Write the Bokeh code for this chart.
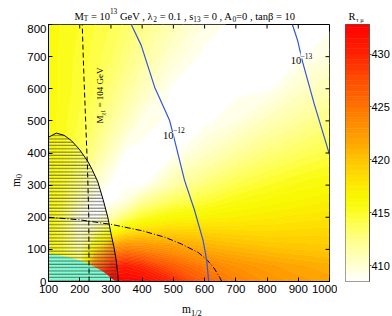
import numpy as np
from bokeh.plotting import figure
from bokeh.layouts import row, column
from bokeh.models import Range1d, FixedTicker, Label
from bokeh.embed import file_html
from bokeh.resources import INLINE

# ---------------- data ----------------
m12_grid = [100, 150, 200, 250, 300, 350, 400, 500, 600, 700, 800, 900, 1000]
m0_grid = [0, 50, 100, 150, 200, 250, 300, 400, 500, 600, 700, 800]
R_rows = [
    [420.0, 422.0, 426.0, 430.0, 432.5, 432.8, 432.5, 430.0, 426.5, 424.2, 423.0, 422.3, 421.8],
    [416.0, 415.0, 414.0, 425.0, 430.0, 430.5, 429.5, 426.5, 424.3, 423.0, 422.2, 421.6, 421.2],
    [416.0, 414.5, 412.0, 418.0, 423.5, 424.5, 424.0, 422.8, 421.5, 420.8, 420.3, 420.0, 419.8],
    [416.0, 414.0, 410.5, 413.0, 416.5, 418.5, 419.3, 419.5, 419.2, 418.9, 418.7, 418.8, 418.9],
    [416.0, 413.8, 409.5, 408.8, 411.2, 413.5, 415.0, 416.3, 416.8, 417.1, 417.4, 417.7, 417.9],
    [415.9, 414.5, 411.4, 408.8, 408.8, 409.7, 411.9, 413.8, 414.6, 415.6, 416.2, 416.6, 417.0],
    [415.9, 414.8, 412.6, 410.1, 408.8, 408.8, 408.8, 411.5, 413.0, 414.2, 415.0, 415.7, 416.1],
    [415.9, 415.1, 414.0, 412.2, 410.5, 408.8, 408.8, 408.8, 410.3, 411.7, 412.8, 413.6, 414.3],
    [415.8, 415.2, 414.4, 413.3, 412.0, 410.7, 409.3, 408.8, 408.8, 409.5, 410.8, 411.8, 412.7],
    [415.8, 415.3, 414.7, 414.0, 412.9, 411.9, 410.8, 408.8, 408.8, 408.8, 408.8, 410.2, 411.1],
    [415.8, 415.3, 414.8, 414.3, 413.6, 412.7, 411.8, 410.0, 408.8, 408.8, 408.8, 408.8, 409.7],
    [415.8, 415.4, 415.0, 414.5, 414.0, 413.3, 412.5, 411.0, 409.4, 408.8, 408.8, 408.8, 408.8],
]

# excluded (cyan) region boundary
excl_m12 = [100, 130, 163, 200, 227, 250, 269, 290, 301, 312, 320, 100]
excl_m0 = [86, 82, 76, 65, 55, 44, 34, 20, 9, 3, 0, 0]

# hatched region boundary (black curve)
hatch_m12 = [100, 125, 150, 173, 200, 227, 240, 258, 275, 290, 300, 310, 317, 322, 324]
hatch_m0 = [449, 462, 455, 439, 410, 372, 348, 310, 255, 200, 150, 105, 65, 20, 0]

# chargino mass line (dashed)
mchi_m12 = [230, 229, 225, 219, 213, 208]
mchi_m0 = [0, 200, 350, 500, 650, 800]

# dash-dot line
dd_m12 = [100, 200, 300, 400, 475, 525, 580, 610, 630, 648, 655]
dd_m0 = [200, 192, 178, 158, 137, 117, 90, 65, 42, 13, 0]

# BR contours (blue)
br12_m12 = [365, 397, 440, 488, 504, 536, 568, 595, 607, 613]
br12_m0 = [800, 735, 605, 501, 439, 314, 221, 128, 65, 0]
br13_m12 = [881, 898, 914, 951, 983, 1000]
br13_m0 = [800, 750, 683, 553, 450, 395]

x_ticks = [100, 200, 300, 400, 500, 600, 700, 800, 900, 1000]
y_ticks = [0, 100, 200, 300, 400, 500, 600, 700, 800]
cb_ticks = [410, 415, 420, 425, 430]
cb_low, cb_high = 408.5, 432.8

# ---------------- colours ----------------
anchors = [(408.5, "#ffffff"), (409.0, "#fffff2"), (410.0, "#ffffd2"), (412.0, "#ffff98"),
           (414.0, "#ffff50"), (415.5, "#fbfb12"), (416.5, "#f8f800"), (418.0, "#ffe400"),
           (420.0, "#ffc400"), (422.0, "#ffa000"), (424.0, "#ff8400"), (426.0, "#ff6400"),
           (428.0, "#ff4600"), (430.0, "#ff2200"), (433.0, "#ff0000")]


def hex2rgb(h):
    return [int(h[i:i + 2], 16) for i in (1, 3, 5)]


def cmap(v):
    if v <= anchors[0][0]:
        return anchors[0][1]
    for (v0, c0), (v1, c1) in zip(anchors[:-1], anchors[1:]):
        if v0 <= v <= v1:
            t = (v - v0) / (v1 - v0)
            a, b = hex2rgb(c0), hex2rgb(c1)
            return "#%02x%02x%02x" % tuple(int(round(a[i] + (b[i] - a[i]) * t)) for i in range(3))
    return anchors[-1][1]


levels = [409.0 + 0.5 * i for i in range(49)]
band_colors = [cmap((levels[i] + levels[i + 1]) / 2) for i in range(len(levels) - 1)]
level_colors = [cmap(v) for v in levels]

SERIF = "Liberation Serif"
SANS = "Liberation Sans"

# page geometry (no page margin in Bokeh's template)
FL, FR, FT, FB = 47.0, 329.0, 24.0, 281.0   # main frame edges on the page


def dx(px):
    return 100 + (px - FL) * 900.0 / (FR - FL)


def dy(py):
    return (FB - py) * 800.0 / (FB - FT)


def lab(fig, x, y, text, size, angle=0.0, font=SERIF, bg=None):
    L = Label(x=x, y=y, text=text, text_font=font, text_font_size=size, text_color="black",
              text_align="left", text_baseline="alphabetic", angle=angle)
    if bg is not None:
        L.background_fill_color = bg
    fig.add_layout(L)


def strip(w, h, x0, y0):
    f = figure(width=w, height=h, x_range=Range1d(x0, x0 + w), y_range=Range1d(y0 + h, y0),
               output_backend="svg", toolbar_location=None, title=None,
               min_border=0, x_axis_location=None, y_axis_location=None)
    f.outline_line_color = None
    f.background_fill_color = "white"
    f.border_fill_color = "white"
    f.xgrid.visible = False
    f.ygrid.visible = False
    return f


# ---------------- main figure ----------------
p = figure(width=313, height=275, x_range=Range1d(100, 1000), y_range=Range1d(0, 800),
           output_backend="svg", toolbar_location=None, title=None,
           min_border_left=23, min_border_right=8, min_border_top=0, min_border_bottom=18)
p.background_fill_color = "white"
p.border_fill_color = "white"
p.outline_line_color = "black"
p.xgrid.visible = False
p.ygrid.visible = False

p.contour(x=m12_grid, y=m0_grid, z=np.array(R_rows), levels=levels,
          fill_color=band_colors, line_color=level_colors, line_width=0.8)

p.patch(excl_m12, excl_m0, fill_color="#7fffd4", line_color=None)
p.patch(hatch_m12 + [100], hatch_m0 + [0], fill_alpha=0, line_color=None,
        hatch_pattern="horizontal_line", hatch_scale=3.3, hatch_color="#333333",
        hatch_weight=0.8, hatch_alpha=0.9)
p.line(hatch_m12, hatch_m0, line_color="black", line_width=1)
p.line(mchi_m12, mchi_m0, line_color="black", line_width=1, line_dash="5 3")
p.line(dd_m12, dd_m0, line_color="black", line_width=1, line_dash="6 2 1 2")
p.line(br12_m12, br12_m0, line_color="#3355dd", line_width=1.2)
p.line(br13_m12, br13_m0, line_color="#3355dd", line_width=1.2)

for ax in p.xaxis:
    ax.ticker = FixedTicker(ticks=x_ticks)
    ax.major_label_standoff = 3
for ax in p.yaxis:
    ax.ticker = FixedTicker(ticks=y_ticks)
    ax.major_label_standoff = 2
for ax in list(p.xaxis) + list(p.yaxis):
    ax.axis_line_color = "black"
    ax.major_tick_in = 4
    ax.major_tick_out = 0
    ax.major_tick_line_color = "black"
    ax.minor_tick_line_color = None
    ax.major_label_text_font = SANS
    ax.major_label_text_font_size = "11.5px"
    ax.major_label_text_color = "black"

# mirrored tick marks on the top and right frame edges (4 px long)
tick_dy = 4 * 800.0 / (FB - FT)
tick_dx = 4 * 900.0 / (FR - FL)
p.segment(x0=x_ticks, y0=[800] * len(x_ticks), x1=x_ticks, y1=[800 - tick_dy] * len(x_ticks),
          line_color="black", line_width=1)
p.segment(x0=[1000] * len(y_ticks), y0=y_ticks, x1=[1000 - tick_dx] * len(y_ticks), y1=y_ticks,
          line_color="black", line_width=1)

# chargino label (rotated)
lab(p, dx(99), dy(123), "M", "9px", angle=np.pi / 2)
lab(p, dx(102), dy(115), "χ1", "6px", angle=np.pi / 2)
lab(p, dx(99), dy(107), "= 104 GeV", "9px", angle=np.pi / 2)

# BR labels
lab(p, dx(162), dy(135), "10", "10.5px", bg="white")
lab(p, dx(172), dy(129), "−12", "7.5px", bg="white")
lab(p, dx(290), dy(60), "10", "10.5px", bg="white")
lab(p, dx(300), dy(55), "−13", "7.5px", bg="white")

# ---------------- colour bar figure ----------------
p2 = figure(width=55, height=275, x_range=Range1d(0, 1), y_range=Range1d(cb_low, cb_high),
            output_backend="svg", toolbar_location=None, title=None,
            min_border_left=8, min_border_right=22, min_border_top=0, min_border_bottom=18,
            x_axis_location=None, y_axis_location="right")
p2.background_fill_color = "white"
p2.border_fill_color = "white"
p2.outline_line_color = "#555555"
p2.xgrid.visible = False
p2.ygrid.visible = False
bottoms = [cb_low] + levels[:-1]
tops = [levels[0]] + levels[1:]
cols = [cmap((cb_low + levels[0]) / 2)] + band_colors
p2.quad(left=0, right=1, bottom=bottoms, top=tops, fill_color=cols, line_color=cols, line_width=0.5)
for ax in p2.yaxis:
    ax.ticker = FixedTicker(ticks=cb_ticks)
    ax.major_tick_in = 0
    ax.major_tick_out = 2
    ax.minor_tick_line_color = None
    ax.axis_line_color = "#555555"
    ax.major_tick_line_color = "#555555"
    ax.major_label_standoff = 0
    ax.major_label_text_font = SANS
    ax.major_label_text_font_size = "11px"
    ax.major_label_text_color = "black"

# ---------------- text strips around the plot ----------------
title_fig = strip(392, 24, 0, 0)
# title pieces laid out left to right from approximate Times advance widths
W = {" ": .25, "=": .564, ".": .25, ",": .25, "G": .722, "e": .444, "V": .722, "M": .889,
     "T": .611, "s": .389, "A": .722, "t": .278, "a": .444, "n": .5, "λ": .55, "β": .5}
for d in "0123456789":
    W[d] = .5


def width(t, fs):
    return sum(W.get(c, .5) for c in t) * fs


FS, SS = 10.5, 7.3
pieces = [("M", "n"), ("T", "sub"), (" = 10", "n"), ("13", "sup"), (" GeV , λ", "n"), ("2", "sub"),
          (" = 0.1 , s", "n"), ("13", "sub"), (" = 0 , A", "n"), ("0", "sub"), ("=0 , tanβ = 10", "n")]
xpos = 74.0
for t, kind in pieces:
    fs = FS if kind == "n" else SS
    base = {"n": 15.5, "sub": 18.0, "sup": 10.5}[kind]
    stripped = t.lstrip(" ")
    xpos += (len(t) - len(stripped)) * W[" "] * fs
    lab(title_fig, xpos, base, stripped, "%.1fpx" % fs)
    xpos += width(stripped, fs)
lab(title_fig, 348, 15.5, "R", "10.5px")
lab(title_fig, 355.5, 19.0, "τ μ", "6.5px")

ylab_fig = strip(24, 275, 0, 24)
lab(ylab_fig, 15.0, 198, "m", "11.5px", angle=np.pi / 2)
lab(ylab_fig, 18.5, 188.5, "0", "8.5px", angle=np.pi / 2)

xlab_fig = strip(392, 17, 0, 299)
lab(xlab_fig, 181.5, 308.5, "m", "11.5px")
lab(xlab_fig, 190.5, 312.0, "1/2", "8.5px")

layout = column(title_fig, row(ylab_fig, p, p2), xlab_fig)
open("out.html", "w").write(file_html(layout, INLINE))
